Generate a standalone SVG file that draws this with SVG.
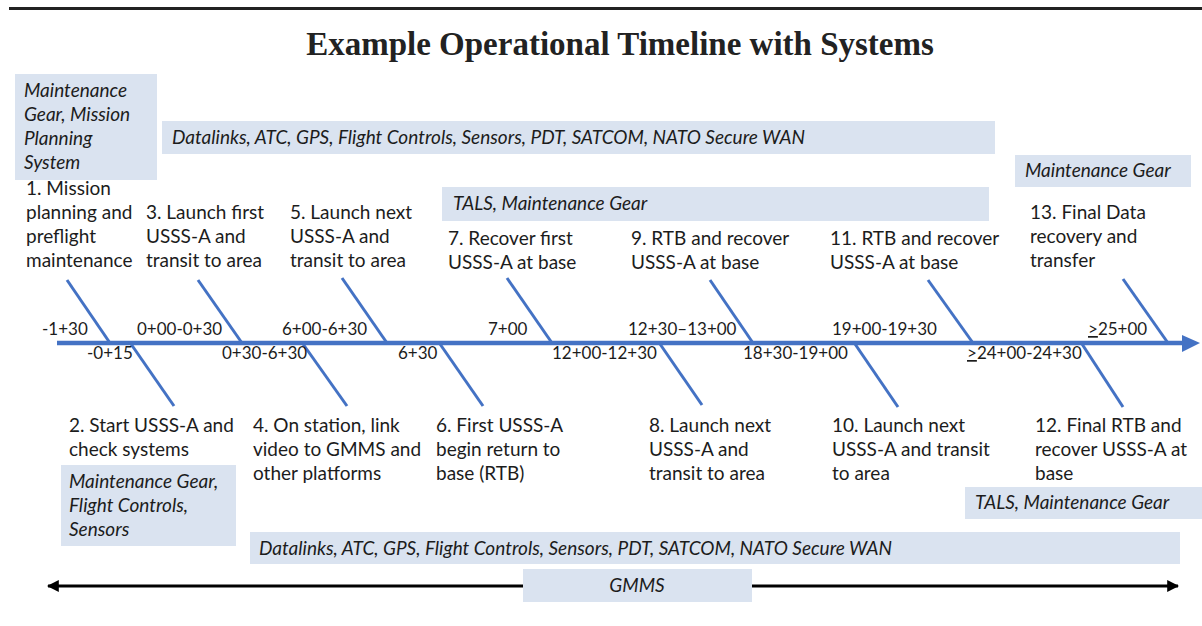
<svg xmlns="http://www.w3.org/2000/svg" width="1202" height="626" viewBox="0 0 1202 626">
  <style>
    .lbl { font-family: Lato, "Liberation Sans", sans-serif; font-size: 19px; fill: #1c1c1c; }
    .sys { font-family: Lato, "Liberation Sans", sans-serif; font-size: 19px; font-style: italic; fill: #1c1c1c; }
    .tick { font-family: Lato, "Liberation Sans", sans-serif; font-size: 17px; fill: #1c1c1c; }
    .box { fill: #dae3f0; }
    .bone { stroke: #4472c4; stroke-width: 3; fill: none; }
    .title { font-family: "Liberation Serif", serif; font-size: 33px; font-weight: bold; fill: #222; }
  </style>
  <defs>
    <marker id="blackHead" viewBox="0 0 10 10" refX="9" refY="5" markerWidth="4" markerHeight="4" orient="auto-start-reverse" markerUnits="strokeWidth">
      <path d="M0,0 L10,5 L0,10 z" fill="#000"/>
    </marker>
  </defs>

  <rect width="1202" height="626" fill="#fff"/>
  <line x1="9" y1="8.5" x2="1202" y2="8.5" stroke="#222" stroke-width="3"/>
  <text class="title" x="620" y="55" text-anchor="middle">Example Operational Timeline with Systems</text>

  <!-- system boxes -->
  <g id="sys-planning">
    <rect class="box" x="15" y="74" width="142" height="106"/>
    <text class="sys" x="24"><tspan x="24" y="97">Maintenance</tspan><tspan x="24" y="121">Gear, Mission</tspan><tspan x="24" y="145">Planning</tspan><tspan x="24" y="169">System</tspan></text>
  </g>
  <g id="sys-datalinks-top">
    <rect class="box" x="162" y="121" width="833" height="33"/>
    <text class="sys" x="172" y="144">Datalinks, ATC, GPS, Flight Controls, Sensors, PDT, SATCOM, NATO Secure WAN</text>
  </g>
  <g id="sys-maint-final">
    <rect class="box" x="1015" y="155" width="176" height="32"/>
    <text class="sys" x="1025" y="177">Maintenance Gear</text>
  </g>
  <g id="sys-tals-top">
    <rect class="box" x="442" y="187" width="547" height="34"/>
    <text class="sys" x="453" y="210">TALS, Maintenance Gear</text>
  </g>
  <g id="sys-start">
    <rect class="box" x="61" y="465" width="175" height="81"/>
    <text class="sys"><tspan x="69" y="488">Maintenance Gear,</tspan><tspan x="69" y="512">Flight Controls,</tspan><tspan x="69" y="536">Sensors</tspan></text>
  </g>
  <g id="sys-tals-bottom">
    <rect class="box" x="965" y="487" width="237" height="32"/>
    <text class="sys" x="975" y="509">TALS, Maintenance Gear</text>
  </g>
  <g id="sys-datalinks-bottom">
    <rect class="box" x="250" y="532" width="930" height="32"/>
    <text class="sys" x="259" y="555">Datalinks, ATC, GPS, Flight Controls, Sensors, PDT, SATCOM, NATO Secure WAN</text>
  </g>

  <!-- connectors: timeline spine, branches and the GMMS span arrow -->
  <g id="connectors">
    <line x1="57" y1="343" x2="1184" y2="343" stroke="#4472c4" stroke-width="4.5"/>
    <path d="M1182,335 L1200,343 L1182,352 z" fill="#4472c4"/>
    <line class="bone" x1="67" y1="280" x2="110" y2="343"/>
    <line class="bone" x1="198" y1="280" x2="242" y2="343"/>
    <line class="bone" x1="342" y1="278" x2="387" y2="343"/>
    <line class="bone" x1="507" y1="278" x2="552" y2="343"/>
    <line class="bone" x1="710" y1="280" x2="753" y2="343"/>
    <line class="bone" x1="928" y1="280" x2="973" y2="343"/>
    <line class="bone" x1="1123" y1="279" x2="1168" y2="343"/>
    <line class="bone" x1="131" y1="344" x2="174" y2="406"/>
    <line class="bone" x1="303" y1="344" x2="347" y2="406"/>
    <line class="bone" x1="440" y1="344" x2="483" y2="406"/>
    <line class="bone" x1="660" y1="344" x2="702" y2="405"/>
    <line class="bone" x1="855" y1="344" x2="898" y2="407"/>
    <line class="bone" x1="1082" y1="344" x2="1123" y2="407"/>
    <line x1="48" y1="586" x2="1178" y2="586" stroke="#000" stroke-width="3" marker-start="url(#blackHead)" marker-end="url(#blackHead)"/>
  </g>

  <g id="sys-gmms">
    <rect class="box" x="523" y="569" width="229" height="33"/>
    <text class="sys" x="637" y="592" text-anchor="middle">GMMS</text>
  </g>

  <!-- step labels above the spine -->
  <g id="step-1"><text class="lbl"><tspan x="26" y="195">1. Mission</tspan><tspan x="26" y="219">planning and</tspan><tspan x="26" y="243">preflight</tspan><tspan x="26" y="267">maintenance</tspan></text></g>
  <g id="step-3"><text class="lbl"><tspan x="146" y="219">3. Launch first</tspan><tspan x="146" y="243">USSS-A and</tspan><tspan x="146" y="267">transit to area</tspan></text></g>
  <g id="step-5"><text class="lbl"><tspan x="290" y="219">5. Launch next</tspan><tspan x="290" y="243">USSS-A and</tspan><tspan x="290" y="267">transit to area</tspan></text></g>
  <g id="step-7"><text class="lbl"><tspan x="448" y="245">7. Recover first</tspan><tspan x="448" y="269">USSS-A at base</tspan></text></g>
  <g id="step-9"><text class="lbl"><tspan x="631" y="245">9. RTB and recover</tspan><tspan x="631" y="269">USSS-A at base</tspan></text></g>
  <g id="step-11"><text class="lbl"><tspan x="830" y="245">11. RTB and recover</tspan><tspan x="830" y="269">USSS-A at base</tspan></text></g>
  <g id="step-13"><text class="lbl"><tspan x="1030" y="219">13. Final Data</tspan><tspan x="1030" y="243">recovery and</tspan><tspan x="1030" y="267">transfer</tspan></text></g>

  <!-- step labels below the spine -->
  <g id="step-2"><text class="lbl"><tspan x="69" y="432">2. Start USSS-A and</tspan><tspan x="69" y="456">check systems</tspan></text></g>
  <g id="step-4"><text class="lbl"><tspan x="253" y="432">4. On station, link</tspan><tspan x="253" y="456">video to GMMS and</tspan><tspan x="253" y="480">other platforms</tspan></text></g>
  <g id="step-6"><text class="lbl"><tspan x="436" y="432">6. First USSS-A</tspan><tspan x="436" y="456">begin return to</tspan><tspan x="436" y="480">base (RTB)</tspan></text></g>
  <g id="step-8"><text class="lbl"><tspan x="649" y="432">8. Launch next</tspan><tspan x="649" y="456">USSS-A and</tspan><tspan x="649" y="480">transit to area</tspan></text></g>
  <g id="step-10"><text class="lbl"><tspan x="832" y="432">10. Launch next</tspan><tspan x="832" y="456">USSS-A and transit</tspan><tspan x="832" y="480">to area</tspan></text></g>
  <g id="step-12"><text class="lbl"><tspan x="1035" y="432">12. Final RTB and</tspan><tspan x="1035" y="456">recover USSS-A at</tspan><tspan x="1035" y="480">base</tspan></text></g>

  <!-- time marks -->
  <g id="times">
    <text class="tick" x="42" y="335">-1+30</text>
    <text class="tick" x="137" y="335">0+00-0+30</text>
    <text class="tick" x="282" y="335">6+00-6+30</text>
    <text class="tick" x="488" y="335">7+00</text>
    <text class="tick" x="628" y="335">12+30–13+00</text>
    <text class="tick" x="832" y="335">19+00-19+30</text>
    <text class="tick" x="1088" y="335"><tspan text-decoration="underline">&gt;</tspan>25+00</text>
    <text class="tick" x="87" y="359">-0+15</text>
    <text class="tick" x="222" y="359">0+30-6+30</text>
    <text class="tick" x="398" y="359">6+30</text>
    <text class="tick" x="552" y="359">12+00-12+30</text>
    <text class="tick" x="743" y="359">18+30-19+00</text>
    <text class="tick" x="967" y="359"><tspan text-decoration="underline">&gt;</tspan>24+00-24+30</text>
  </g>
</svg>
